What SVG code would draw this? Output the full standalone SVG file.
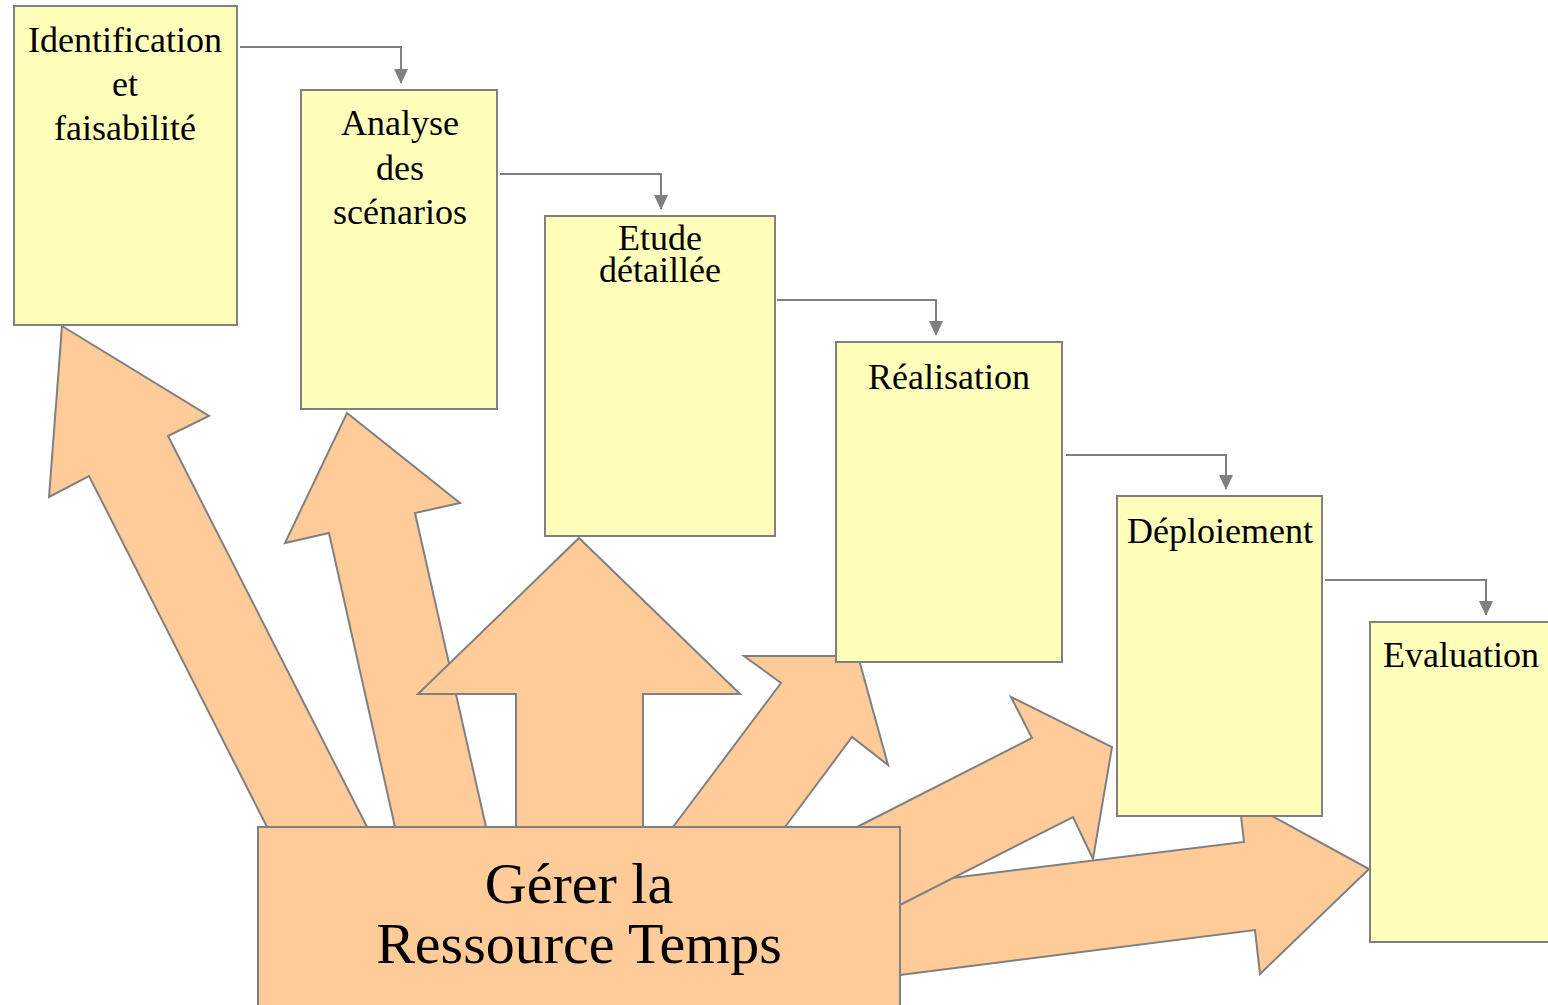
<svg xmlns="http://www.w3.org/2000/svg" width="1548" height="1005" viewBox="0 0 1548 1005">
  <style>
    .step { fill: #FFFFBB; stroke: #808080; stroke-width: 2; }
    .flow { fill: #FFCC99; stroke: #808080; stroke-width: 2; stroke-linejoin: miter; }
    .hub { fill: #FFCC99; stroke: #808080; stroke-width: 2; }
    .lbl { font-family: "Liberation Serif", "Times New Roman", serif; font-size: 36px; fill: #000; text-anchor: middle; }
    .big { font-family: "Liberation Serif", "Times New Roman", serif; font-size: 58px; fill: #000; text-anchor: middle; }
    .link { fill: none; stroke: #808080; stroke-width: 2; }
  </style>
  <defs>
    <!-- filled triangle pointing along the path direction -->
    <marker id="head" viewBox="0 0 15 14" refX="14" refY="7" markerWidth="15" markerHeight="14" markerUnits="userSpaceOnUse" orient="auto">
      <path d="M0,0 L15,7 L0,14 Z" fill="#808080"/>
    </marker>
  </defs>

  <rect width="1548" height="1005" fill="#FFFFFF"/>

  <!-- resource arrows fanning out from the time-management block -->
  <g id="resource-arrows">
    <polygon class="flow" points="62,326 209,416 168,436 367,827 373,845 275,845 267,827 89,476 49,497"/>
    <polygon class="flow" points="347,413 460,503 415,513 486,827 490,845 398,845 395,827 329,533 285,543"/>
    <polygon class="flow" points="579,538 740,694 643,694 643,845 516,845 516,694 418,694"/>
    <polygon class="flow" points="858,656 888,765 852,737 785,827 770,845 660,845 673,827 781,683 744,656"/>
    <polygon class="flow" points="1369,869 1260,974 1255,930 900,975 870,979 870,890 952,878 1244,842 1239,798"/>
    <polygon class="flow" points="1112,747 1093,859 1073,817 900,905 870,920 830,840 857,827 1032,738 1011,697"/>
  </g>

  <!-- phase boxes -->
  <g id="identification">
    <rect class="step" x="14" y="6" width="223" height="319"/>
    <text class="lbl" x="125" y="52">Identification</text>
    <text class="lbl" x="125" y="96">et</text>
    <text class="lbl" x="125" y="140">faisabilité</text>
  </g>
  <g id="analyse">
    <rect class="step" x="301" y="90" width="196" height="319"/>
    <text class="lbl" x="400" y="135">Analyse</text>
    <text class="lbl" x="400" y="180">des</text>
    <text class="lbl" x="400" y="224">scénarios</text>
  </g>
  <g id="etude">
    <rect class="step" x="545" y="216" width="230" height="320"/>
    <text class="lbl" x="660" y="250">Etude</text>
    <text class="lbl" x="660" y="282">détaillée</text>
  </g>
  <g id="realisation">
    <rect class="step" x="836" y="342" width="226" height="320"/>
    <text class="lbl" x="949" y="389">Réalisation</text>
  </g>
  <g id="deploiement">
    <rect class="step" x="1117" y="496" width="205" height="320"/>
    <text class="lbl" x="1220" y="543">Déploiement</text>
  </g>
  <g id="evaluation">
    <rect class="step" x="1370" y="622" width="190" height="320"/>
    <text class="lbl" x="1461" y="667">Evaluation</text>
  </g>

  <!-- central block -->
  <g id="gerer">
    <rect class="hub" x="258" y="827" width="642" height="190"/>
    <text class="big" x="579" y="903">Gérer la</text>
    <text class="big" x="579" y="963">Ressource Temps</text>
  </g>

  <!-- sequence connectors between phases -->
  <g id="connectors">
    <polyline class="link" points="240,47 401,47 401,83" marker-end="url(#head)"/>
    <polyline class="link" points="500,174 661,174 661,209" marker-end="url(#head)"/>
    <polyline class="link" points="777,300 936,300 936,335" marker-end="url(#head)"/>
    <polyline class="link" points="1066,455 1226,455 1226,489" marker-end="url(#head)"/>
    <polyline class="link" points="1325,580 1486,580 1486,615" marker-end="url(#head)"/>
  </g>
</svg>
